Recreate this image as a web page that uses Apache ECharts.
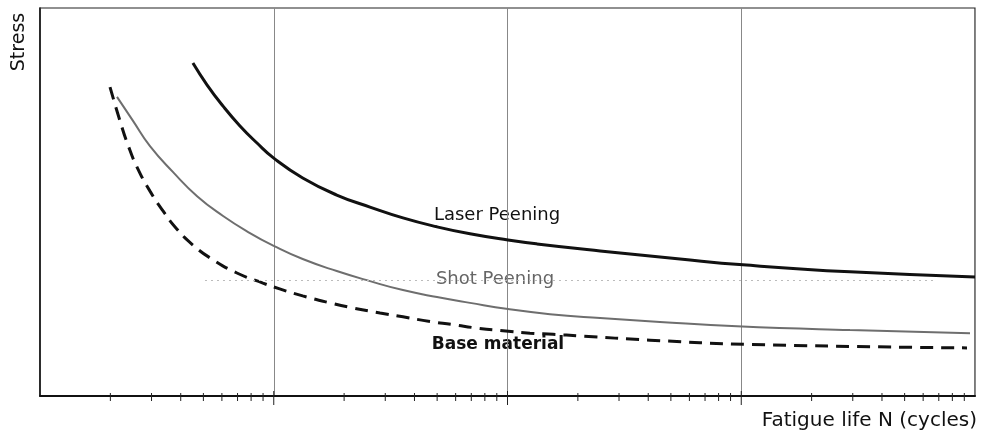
<!DOCTYPE html>
<html>
<head>
<meta charset="utf-8">
<script src="https://cdn.jsdelivr.net/npm/echarts@6/dist/echarts.min.js"></script>
<style>html,body{margin:0;padding:0;background:#fff}#c{width:982px;height:444px}</style>
</head>
<body>
<div id="c"></div>
<script>
// Fatigue life N (cycles), log scale; stress in relative units (0-100)
const laserN = [4.51, 5.18, 6.07, 7.17, 8.48, 10.0, 13.3, 18.6, 25.8, 35.7, 49.9, 69.1, 100.5, 133.7, 249, 547, 1017, 2918, 10000];
const laserS = [85.8, 80.2, 74.7, 69.6, 65.2, 61.3, 56.2, 51.8, 48.7, 45.9, 43.6, 41.8, 40.2, 39.2, 37.4, 35.3, 33.8, 32.0, 30.7];
const shotN = [2.135, 2.50, 2.955, 3.71, 4.70, 6.07, 7.91, 10.0, 13.3, 18.6, 25.8, 35.7, 49.9, 69.1, 100.5, 152, 249, 449, 959, 2918, 9520];
const shotS = [77.1, 70.9, 64.4, 57.7, 51.5, 46.4, 42.0, 38.7, 35.3, 32.2, 29.6, 27.3, 25.5, 24.0, 22.4, 21.1, 20.1, 19.1, 18.0, 17.0, 16.2];
const baseN = [1.993, 2.199, 2.379, 2.60, 2.955, 3.36, 3.856, 4.51, 5.50, 6.96, 8.99, 10.6, 13.3, 17.4, 21.8, 28.5, 35.7, 46.6, 58.5, 74.1, 95.7, 124.8, 156.6, 204, 407, 1090, 9244];
const baseS = [79.6, 70.9, 64.7, 59.0, 52.8, 47.7, 43.0, 38.9, 35.1, 31.7, 29.1, 27.6, 25.8, 24.0, 22.7, 21.4, 20.4, 19.2, 18.4, 17.5, 16.8, 16.2, 15.9, 15.5, 14.4, 13.3, 12.4];
const majorTicks = [10, 100, 1000];
const minorTicks = [2,3,4,5,6,7,8,9,20,30,40,50,60,70,80,90,200,300,400,500,600,700,800,900,2000,3000,4000,5000,6000,7000,8000,9000];
const seriesNames = ['Laser Peening', 'Shot Peening', 'Base material'];
const xTitle = 'Fatigue life N (cycles)';
const yTitle = 'Stress';

const zip = (a, b) => a.map((v, i) => [v, b[i]]);
const FONT = '"DejaVu Sans"';

const chart = echarts.init(document.getElementById('c'), null, {renderer: 'canvas'});

function tickSeries(values, half, below) {
  return {
    type: 'custom',
    silent: true,
    clip: false,
    z: 5,
    data: values.map(v => [v, 0]),
    renderItem: function (params, api) {
      const p = api.coord([api.value(0), 0]);
      return {
        type: 'line',
        shape: {x1: p[0], y1: p[1] - half, x2: p[0], y2: p[1] + below},
        style: {stroke: '#222', lineWidth: 1}
      };
    }
  };
}

chart.setOption({
  animation: false,
  backgroundColor: '#fff',
  grid: {left: 40, right: 7, top: 8, bottom: 48, show: true, borderColor: '#222', borderWidth: 1.2},
  xAxis: {
    type: 'log', logBase: 10, min: 1, max: 10000,
    axisLine: {show: true, lineStyle: {color: '#111', width: 2}},
    axisTick: {show: false},
    axisLabel: {show: false},
    splitLine: {show: true, lineStyle: {color: '#888', width: 1}},
    minorTick: {show: false}
  },
  yAxis: {
    type: 'value', min: 0, max: 100,
    axisLine: {show: true, lineStyle: {color: '#111', width: 1.5}},
    axisTick: {show: false},
    axisLabel: {show: false},
    splitLine: {show: false}
  },
  series: [
    {
      name: seriesNames[0], type: 'line', data: zip(laserN, laserS), smooth: 0.5,
      showSymbol: false, lineStyle: {color: '#111', width: 3}, z: 3
    },
    {
      name: seriesNames[1], type: 'line', data: zip(shotN, shotS), smooth: 0.5,
      showSymbol: false, lineStyle: {color: '#6e6e6e', width: 2}, z: 3,
      markLine: {
        silent: true, symbol: 'none', label: {show: false},
        lineStyle: {color: '#bbb', type: [2, 4], width: 1},
        data: [[{coord: [5.08, 29.9]}, {coord: [6750, 29.9]}]]
      }
    },
    {
      name: seriesNames[2], type: 'line', data: zip(baseN, baseS), smooth: 0.5,
      showSymbol: false, lineStyle: {color: '#111', width: 3, type: [13, 8]}, z: 3
    },
    tickSeries(minorTicks, 3, 5),
    tickSeries(majorTicks, 5, 9)
  ],
  graphic: [
    {type: 'text', x: 497, y: 215, style: {text: seriesNames[0], font: '18px ' + FONT, fill: '#111', align: 'center', verticalAlign: 'middle'}},
    {type: 'text', x: 495, y: 279, style: {text: seriesNames[1], font: '18px ' + FONT, fill: '#666', align: 'center', verticalAlign: 'middle', backgroundColor: '#fff'}},
    {type: 'text', x: 498, y: 345, style: {text: seriesNames[2], font: 'bold 17px ' + FONT, fill: '#111', align: 'center', verticalAlign: 'middle'}},
    {type: 'text', x: 977, y: 421, style: {text: xTitle, font: '20px ' + FONT, fill: '#111', align: 'right', verticalAlign: 'middle'}},
    {type: 'text', x: 19, y: 42, rotation: Math.PI / 2, style: {text: yTitle, font: '19px ' + FONT, fill: '#111', align: 'center', verticalAlign: 'middle'}}
  ]
});
</script>
</body>
</html>
